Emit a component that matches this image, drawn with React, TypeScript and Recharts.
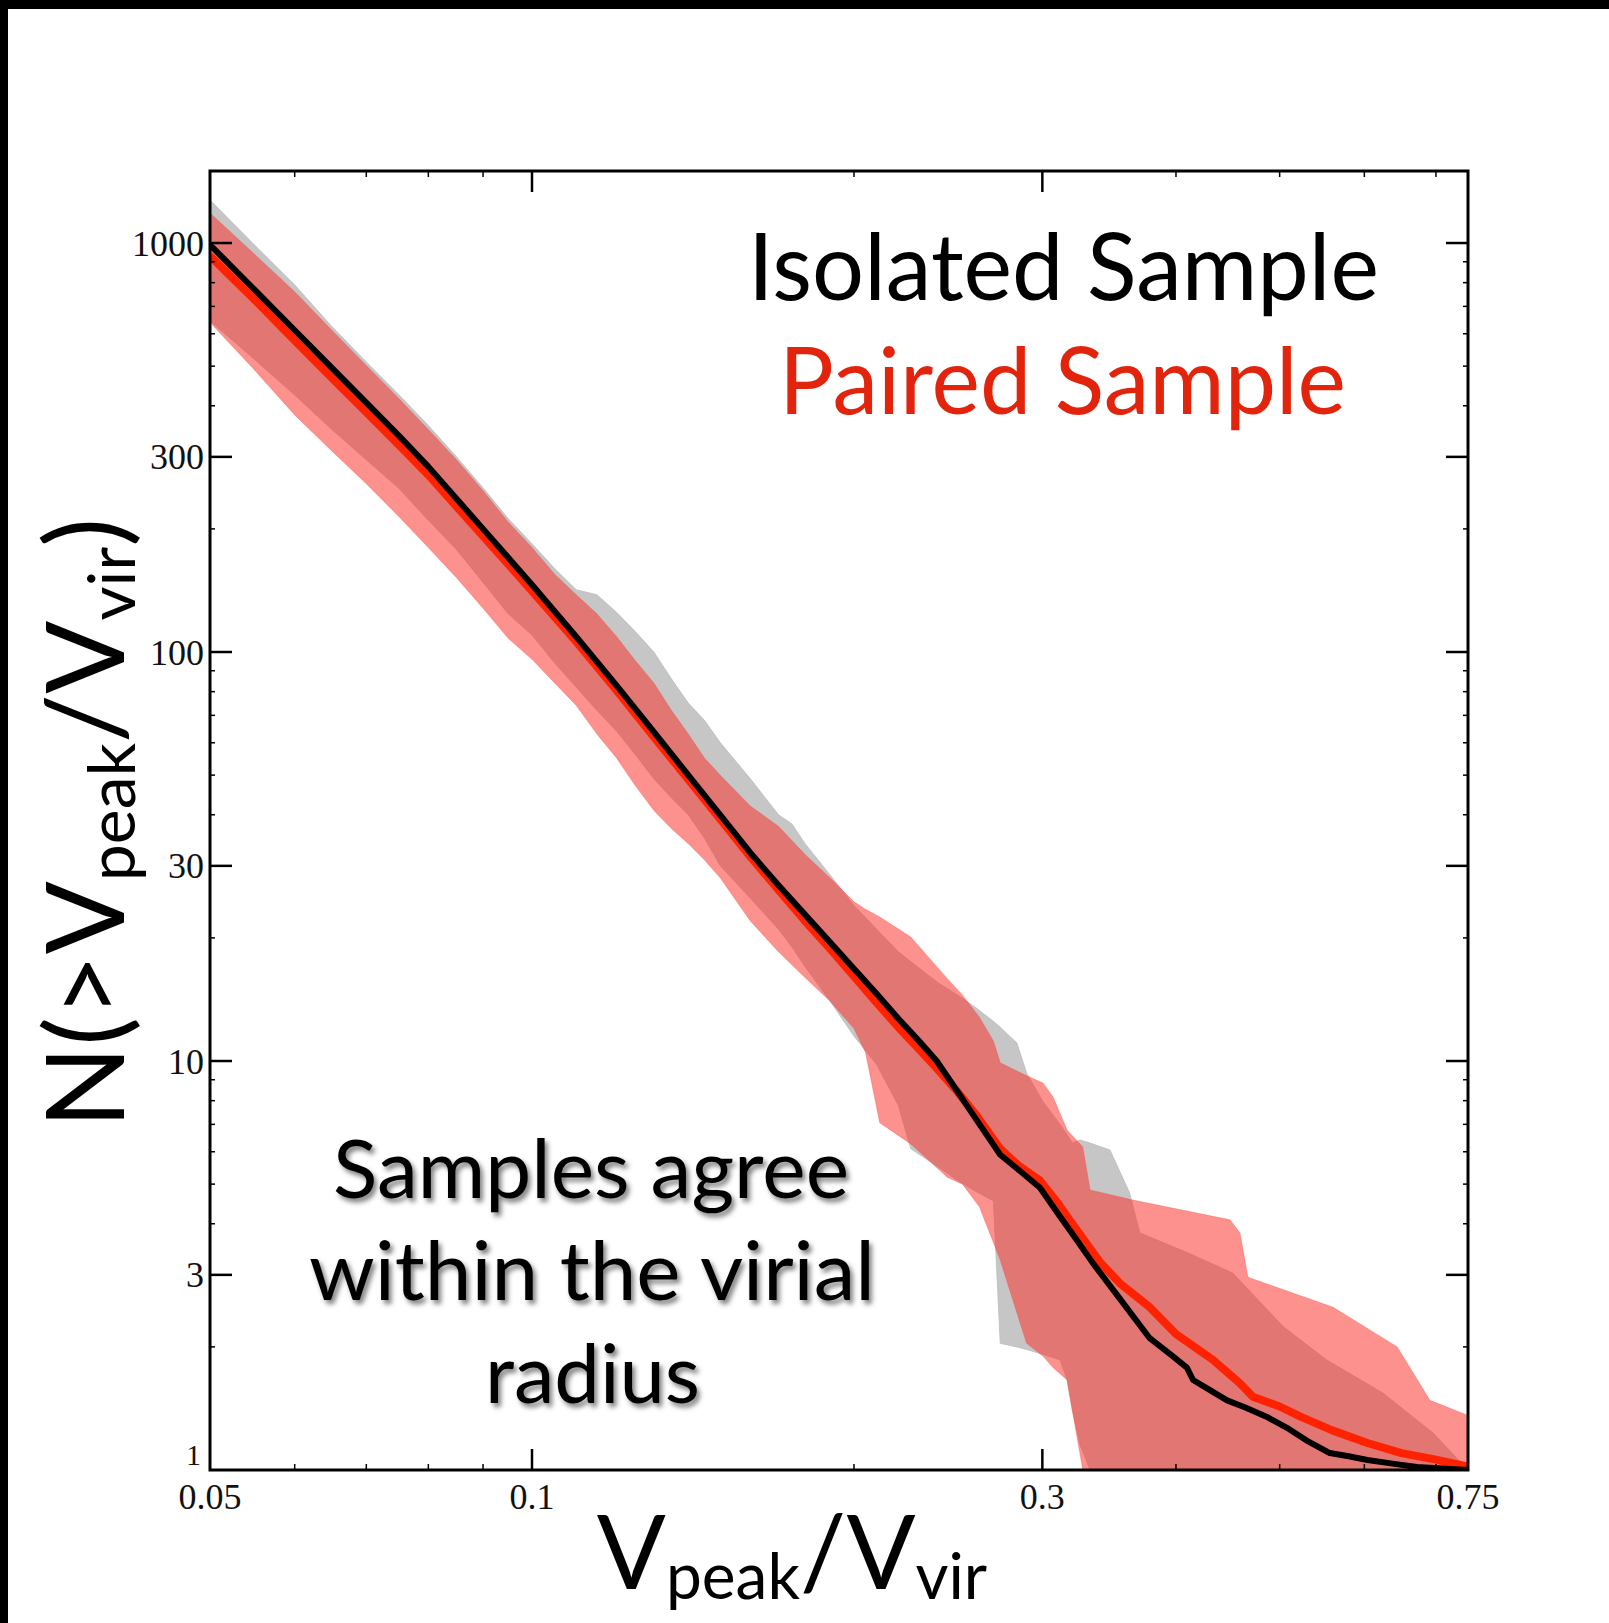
import { ComposedChart, Area, Line, XAxis, YAxis } from 'recharts';

const W = 1609;
const H = 1623;
const PL = 210;
const PT = 171;
const PR = 1468;
const PB = 1470;

// isolated sample median (black)
const isoLineX = [0.05, 0.055, 0.06, 0.065, 0.07, 0.075, 0.08, 0.09, 0.1, 0.11, 0.12, 0.13, 0.14, 0.15, 0.16, 0.17, 0.18, 0.19, 0.2, 0.21, 0.22, 0.23, 0.239, 0.25, 0.26, 0.274, 0.285, 0.2985, 0.31, 0.32, 0.3346, 0.355, 0.378, 0.395, 0.4095, 0.415, 0.43, 0.4465, 0.465, 0.486, 0.51, 0.53, 0.557, 0.58, 0.604, 0.64, 0.672, 0.71, 0.75];
const isoLineN = [990, 770, 612, 495, 407, 339, 284, 200, 146, 109, 82.8, 63.8, 50, 39.9, 32.3, 26.9, 22.8, 19.5, 16.8, 14.6, 12.7, 11.2, 10, 8.41, 7.22, 5.9, 5.42, 4.9, 4.25, 3.78, 3.2, 2.61, 2.1, 1.92, 1.78, 1.66, 1.57, 1.48, 1.42, 1.35, 1.26, 1.18, 1.1, 1.08, 1.058, 1.035, 1.017, 1.008, 1.0];

// paired sample median (red)
const pairLineX = [0.05, 0.055, 0.06, 0.065, 0.07, 0.075, 0.08, 0.09, 0.1, 0.11, 0.12, 0.13, 0.14, 0.15, 0.16, 0.17, 0.18, 0.19, 0.2, 0.21, 0.22, 0.23, 0.239, 0.25, 0.26, 0.274, 0.285, 0.2985, 0.31, 0.32, 0.34, 0.355, 0.378, 0.4, 0.433, 0.459, 0.472, 0.5, 0.523, 0.56, 0.604, 0.65, 0.7, 0.75];
const pairLineN = [930, 728, 578, 468, 386, 322, 271, 192, 141, 106, 80.5, 62, 48.8, 39, 31.6, 26.2, 22, 18.8, 16.1, 13.9, 12.1, 10.7, 9.6, 8.4, 7.4, 6.1, 5.55, 5.1, 4.5, 4.0, 3.21, 2.85, 2.5, 2.15, 1.86, 1.63, 1.51, 1.43, 1.35, 1.25, 1.164, 1.1, 1.06, 1.02];

// isolated sample scatter (grey band)
const isoBandX = [0.05, 0.055, 0.06, 0.065, 0.07, 0.075, 0.08, 0.085, 0.09, 0.095, 0.1, 0.105, 0.11, 0.115, 0.12, 0.125, 0.13, 0.135, 0.14, 0.145, 0.15, 0.16, 0.17, 0.175, 0.18, 0.19, 0.2, 0.21, 0.22, 0.226, 0.24, 0.25, 0.26, 0.27, 0.274, 0.284, 0.29, 0.3, 0.3116, 0.3164, 0.32, 0.3254, 0.3325, 0.347, 0.362, 0.37, 0.41, 0.452, 0.504, 0.553, 0.625, 0.696, 0.75];
const isoBandLow = [645, 520, 425, 350, 295, 252, 210, 178, 148, 124, 110, 94, 82, 72, 64, 56, 49, 44, 40, 35, 30, 25, 21, 19, 17, 14, 11.5, 9.8, 7.8, 6.1, 5.5, 5.1, 4.8, 4.55, 2.04, 2.0, 1.97, 1.92, 1.86, 1.66, 1.4, 1.15, 1, 1, 1, 1, 1, 1, 1, 1, 1, 1, 1];
const isoBandHigh = [1274, 990, 790, 625, 512, 427, 358, 300, 252, 212, 184, 160, 142, 138, 125, 112, 100, 86, 75, 68, 60, 49, 40, 38, 34, 28.5, 24, 21, 18.5, 17.5, 15.5, 14.5, 13.5, 12.5, 12.1, 11.07, 9.35, 8.0, 7.0, 6.6, 6.3, 6.41, 6.3, 6.06, 4.76, 3.8, 3.4, 3.03, 2.24, 1.86, 1.54, 1.23, 1.0];

// paired sample scatter (red band)
const pairBandX = [0.05, 0.055, 0.06, 0.065, 0.07, 0.075, 0.08, 0.085, 0.09, 0.095, 0.1, 0.105, 0.11, 0.115, 0.12, 0.125, 0.13, 0.135, 0.14, 0.145, 0.15, 0.16, 0.17, 0.18, 0.19, 0.2, 0.205, 0.2114, 0.226, 0.2445, 0.2526, 0.262, 0.27, 0.274, 0.29, 0.3004, 0.307, 0.3164, 0.3273, 0.3325, 0.3646, 0.4493, 0.459, 0.467, 0.561, 0.644, 0.691, 0.75];
const pairBandLow = [640, 490, 380, 310, 258, 215, 180, 152, 128, 108, 96, 84, 74, 63, 55, 47, 41, 37, 34, 31, 28, 22, 18.5, 16, 14, 12, 10.5, 7.06, 6.27, 5.2, 5.0, 4.4, 3.6, 3.26, 2.04, 1.9, 1.78, 1.66, 1, 1, 1, 1, 1, 1, 1, 1, 1, 1];
const pairBandHigh = [1184, 940, 760, 612, 502, 418, 350, 295, 248, 208, 180, 155, 138, 124, 109, 95, 84, 72, 63, 55, 50, 42, 37.5, 32, 28, 24.5, 23.5, 22.5, 20.1, 15.9, 14.5, 12.8, 11.2, 9.9, 9.2, 8.84, 8.17, 6.78, 6.16, 4.84, 4.57, 4.09, 3.8, 2.96, 2.5, 2.0, 1.48, 1.36];

const xTickValues = [0.05, 0.06, 0.07, 0.08, 0.09, 0.1, 0.2, 0.3, 0.4, 0.5, 0.6, 0.7, 0.75];
const xTickLabels = ['0.05', '', '', '', '', '0.1', '', '0.3', '', '', '', '', '0.75'];
const xMajor = [0.1, 0.3];

const yTickValues = [1, 2, 3, 4, 5, 6, 7, 8, 9, 10, 20, 30, 40, 50, 60, 70, 80, 90, 100, 200, 300, 400, 500, 600, 700, 800, 900, 1000];
const yTickLabels = ['1', '', '3', '', '', '', '', '', '', '10', '', '30', '', '', '', '', '', '', '100', '', '300', '', '', '', '', '', '', '1000'];
const yMajor = [3, 10, 30, 100, 300, 1000];

const isoLine = isoLineX.map((x, i) => ({ x, n: isoLineN[i] }));
const pairLine = pairLineX.map((x, i) => ({ x, n: pairLineN[i] }));
const isoBand = isoBandX.map((x, i) => ({ x, range: [isoBandLow[i], isoBandHigh[i]] }));
const pairBand = pairBandX.map((x, i) => ({ x, range: [pairBandLow[i], pairBandHigh[i]] }));

const tickFont = '"Liberation Serif", "DejaVu Serif", serif';
const titleFont = 'Lato, "Open Sans", sans-serif';

function XTick(props: any) {
  const { x, payload } = props;
  const v = payload.value;
  const i = xTickValues.indexOf(v);
  const major = xMajor.includes(v);
  const len = major ? 21 : 6;
  const sw = major ? 2.5 : 1.5;
  return (
    <g>
      {v > 0.05 && v < 0.75 && (
        <>
          <line x1={x} y1={PB} x2={x} y2={PB - len} stroke="#000" strokeWidth={sw} />
          <line x1={x} y1={PT} x2={x} y2={PT + len} stroke="#000" strokeWidth={sw} />
        </>
      )}
      {i >= 0 && xTickLabels[i] && (
        <text x={x} y={1509} textAnchor="middle" fontFamily={tickFont} fontSize={36} fill="#111">
          {xTickLabels[i]}
        </text>
      )}
    </g>
  );
}

function YTick(props: any) {
  const { y, payload } = props;
  const v = payload.value;
  const i = yTickValues.indexOf(v);
  const major = yMajor.includes(v);
  const len = major ? 22 : 5;
  const sw = major ? 2.5 : 1.5;
  return (
    <g>
      {v > 1 && (
        <>
          <line x1={PL} y1={y} x2={PL + len} y2={y} stroke="#000" strokeWidth={sw} />
          <line x1={PR} y1={y} x2={PR - len} y2={y} stroke="#000" strokeWidth={sw} />
        </>
      )}
      {i >= 0 && yTickLabels[i] && (
        <text
          x={v === 1 ? 201 : 204}
          y={v === 1 ? y - 16 : y}
          dy="0.35em"
          textAnchor="end"
          fontFamily={tickFont}
          fontSize={v === 1 ? 30 : 36}
          fill="#111"
        >
          {yTickLabels[i]}
        </text>
      )}
    </g>
  );
}

export default function App() {
  return (
    <div style={{ position: 'absolute', left: 0, top: 0, width: W, height: H, background: '#fff', overflow: 'hidden' }}>
      <div style={{ position: 'absolute', left: 0, top: 0, width: W, height: 9, background: '#000' }} />
      <div style={{ position: 'absolute', left: 0, top: 0, width: 8, height: H, background: '#000' }} />
      <div style={{ position: 'absolute', left: 0, top: 0 }}>
        <ComposedChart
          width={W}
          height={H}
          margin={{ top: PT, right: W - PR, bottom: H - PB - 60, left: PL - 100 }}
        >
          <XAxis
            type="number"
            dataKey="x"
            scale="log"
            domain={[0.05, 0.75]}
            allowDataOverflow
            ticks={xTickValues}
            interval={0}
            tick={<XTick />}
            tickLine={false}
            axisLine={false}
            height={60}
          />
          <YAxis
            type="number"
            scale="log"
            domain={[1, 1500]}
            allowDataOverflow
            ticks={yTickValues}
            interval={0}
            tick={<YTick />}
            tickLine={false}
            axisLine={false}
            width={100}
          />
          <Area
            data={isoBand}
            dataKey="range"
            type="linear"
            fill="#c6c6c6"
            fillOpacity={1}
            stroke="#bdbdbd"
            strokeWidth={0.8}
            isAnimationActive={false}
          />
          <Area
            data={pairBand}
            dataKey="range"
            type="linear"
            fill="#fb2f27"
            fillOpacity={0.53}
            stroke="#ff4a40"
            strokeOpacity={0.35}
            strokeWidth={1}
            isAnimationActive={false}
          />
          <Line
            data={pairLine}
            dataKey="n"
            type="linear"
            stroke="#ff2200"
            strokeWidth={8}
            strokeLinejoin="round"
            dot={false}
            activeDot={false}
            isAnimationActive={false}
          />
          <Line
            data={isoLine}
            dataKey="n"
            type="linear"
            stroke="#000"
            strokeWidth={6}
            strokeLinejoin="round"
            dot={false}
            activeDot={false}
            isAnimationActive={false}
          />
        </ComposedChart>
      </div>
      <svg width={W} height={H} style={{ position: 'absolute', left: 0, top: 0, pointerEvents: 'none' }}>
        <defs>
          <filter id="shadow" x="-10%" y="-20%" width="120%" height="150%">
            <feDropShadow dx="3" dy="4" stdDeviation="2.5" floodColor="#000" floodOpacity="0.5" />
          </filter>
        </defs>
        <rect x={PL} y={PT} width={PR - PL} height={PB - PT} fill="none" stroke="#000" strokeWidth={3} />
        <text x={748} y={300} fontFamily={titleFont} fontSize={93} fill="#000" textLength={631} lengthAdjust="spacingAndGlyphs">
          Isolated Sample
        </text>
        <text x={779} y={414} fontFamily={titleFont} fontSize={93} fill="#e2240c" textLength={567} lengthAdjust="spacingAndGlyphs">
          Paired Sample
        </text>
        <g filter="url(#shadow)" fontFamily={titleFont} fontSize={82} fill="#000">
          <text x={333} y={1198} textLength={516} lengthAdjust="spacingAndGlyphs">Samples agree</text>
          <text x={309} y={1300} textLength={566} lengthAdjust="spacingAndGlyphs">within the virial</text>
          <text x={485} y={1403} textLength={215} lengthAdjust="spacingAndGlyphs">radius</text>
        </g>
        <text transform="translate(124,823) rotate(-90)" textAnchor="middle" fontFamily={titleFont} fontSize={108} fill="#000">
          N(&gt;V
          <tspan fontSize={66} dy={11}>peak</tspan>
          <tspan dy={-11}>/V</tspan>
          <tspan fontSize={66} dy={11}>vir</tspan>
          <tspan dy={-11}>)</tspan>
        </text>
        <text x={792} y={1589} textAnchor="middle" fontFamily={titleFont} fontSize={102} fill="#000">
          V
          <tspan fontSize={64} dy={10}>peak</tspan>
          <tspan dy={-10}>/V</tspan>
          <tspan fontSize={64} dy={10}>vir</tspan>
        </text>
      </svg>
    </div>
  );
}
